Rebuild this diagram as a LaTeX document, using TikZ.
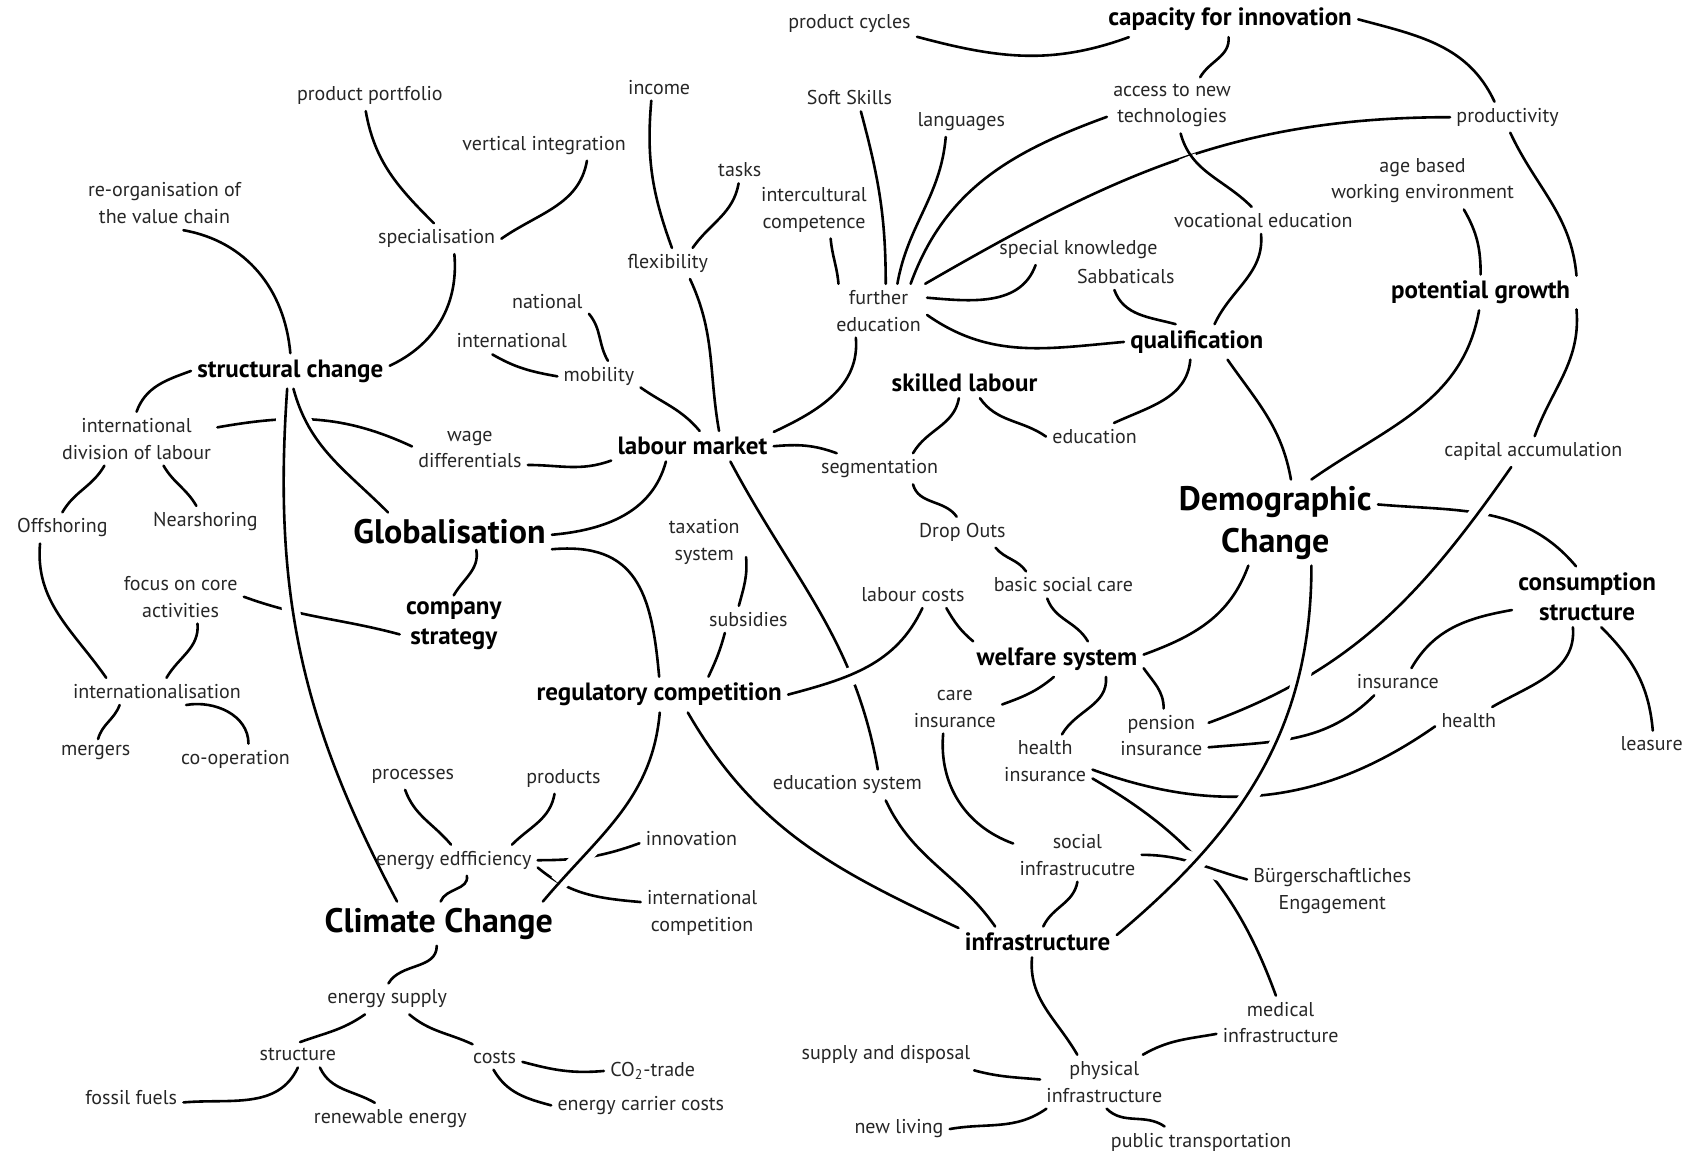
\documentclass[tikz,border=0pt]{standalone}
\usepackage{fontspec}
\setmainfont{PT Sans}
\usetikzlibrary{backgrounds}

\begin{document}
\begin{tikzpicture}[
    x=0.5376pt, y=0.5376pt,
    every node/.style={font=\fontsize{10}{13.4}\selectfont, align=center,
                       inner sep=3pt, text=black!85},
    topic/.style={font=\bfseries\fontsize{12.5}{15}\selectfont, text=black},
    theme/.style={font=\bfseries\fontsize{17}{21}\selectfont, text=black},
    link/.style={line width=1.3pt, line cap=round},
    over/.style={link, preaction={draw=white, line width=9pt,
                 shorten <=12pt, shorten >=12pt}}
  ]
  \useasboundingbox (0,0) rectangle (1568,-1074);

  \node (pcyc) at (790,-22) {product cycles};
  \node[topic] (capinn) at (1144,-18) {capacity for innovation};
  \node (pport) at (344,-89) {product portfolio};
  \node (income) at (613,-81) {income};
  \node (soft) at (790,-91) {Soft Skills};
  \node (lang) at (894,-113) {languages};
  \node (access) at (1090,-98) {access to new\\technologies};
  \node (prod) at (1402,-109) {productivity};
  \node (vint) at (506,-135) {vertical integration};
  \node (tasks) at (688,-158) {tasks};
  \node (agebased) at (1323,-168) {age based\\working environment};
  \node (reorg) at (153,-189) {re-organisation of\\the value chain};
  \node (intercult) at (757,-195) {intercultural\\competence};
  \node (spec) at (406,-222) {specialisation};
  \node (voc) at (1175,-205) {vocational education};
  \node (flex) at (621,-245) {flexibility};
  \node (specknow) at (1003,-232) {special knowledge};
  \node (sabb) at (1047,-257) {Sabbaticals};
  \node (further) at (817,-289) {further\\education};
  \node (national) at (509,-280) {national};
  \node[topic] (potgrowth) at (1377,-272) {potential growth};
  \node (intl) at (476,-317) {international};
  \node[topic] (qual) at (1113,-318) {qualification};
  \node[topic] (structch) at (270,-345) {structural change};
  \node (mobility) at (557,-350) {mobility};
  \node[topic] (skilled) at (897,-356) {skilled labour};
  \node (divlab) at (127,-408) {international\\division of labour};
  \node (wage) at (437,-418) {wage\\differentials};
  \node[topic] (labmkt) at (644,-415) {labour market};
  \node (edu) at (1018,-406) {education};
  \node (segm) at (818,-436) {segmentation};
  \node (capacc) at (1426,-420) {capital accumulation};
  \node (offsh) at (58,-491) {Offshoring};
  \node (nearsh) at (191,-485) {Nearshoring};
  \node[theme] (global) at (418,-494) {Globalisation};
  \node (tax) at (655,-504) {taxation\\system};
  \node (dropouts) at (895,-495) {Drop Outs};
  \node[theme] (demo) at (1186,-486) {Demographic\\Change};
  \node (focus) at (168,-555) {focus on core\\activities};
  \node[topic] (compstrat) at (422,-582) {company\\strategy};
  \node (labcost) at (849,-553) {labour costs};
  \node (basic) at (989,-544) {basic social care};
  \node[topic] (consum) at (1476,-555) {consumption\\structure};
  \node (subs) at (696,-576) {subsidies};
  \node[topic] (welfare) at (983,-613) {welfare system};
  \node (intlisation) at (146,-643) {internationalisation};
  \node[topic] (regcomp) at (613,-646) {regulatory competition};
  \node (careins) at (888,-659) {care\\insurance};
  \node (insur) at (1300,-634) {insurance};
  \node (pension) at (1080,-684) {pension\\insurance};
  \node (health) at (1366,-670) {health};
  \node (healthins) at (972,-708) {health\\insurance};
  \node (leasure) at (1536,-692) {leasure};
  \node (mergers) at (89,-700) {mergers};
  \node (coop) at (219,-706) {co-operation};
  \node (processes) at (384,-722) {processes};
  \node (products) at (524,-724) {products};
  \node (edusys) at (788,-730) {education system};
  \node (innov) at (643,-780) {innovation};
  \node (effic) at (422,-800) {energy edfficiency};
  \node (socinfra) at (1002,-795) {social\\infrastrucutre};
  \node (intcomp) at (653,-849) {international\\competition};
  \node (buerger) at (1239,-829) {Bürgerschaftliches\\Engagement};
  \node[theme] (climate) at (408,-859) {Climate Change};
  \node[topic] (infra) at (965,-876) {infrastructure};
  \node (supply) at (360,-929) {energy supply};
  \node (medinfra) at (1191,-951) {medical\\infrastructure};
  \node (structure) at (277,-981) {structure};
  \node (costs) at (460,-983) {costs};
  \node (cotrade) at (607,-996) {CO\textsubscript{2}-trade};
  \node (supdisp) at (824,-981) {supply and disposal};
  \node (physinfra) at (1027,-1006) {physical\\infrastructure};
  \node (fossil) at (122,-1021) {fossil fuels};
  \node (carrier) at (596,-1028) {energy carrier costs};
  \node (renew) at (363,-1040) {renewable energy};
  \node (newliv) at (836,-1050) {new living};
  \node (pubtrans) at (1117,-1062) {public transportation};

  \begin{scope}[on background layer]
    \draw[link] (pcyc.-11) to[out=-15,in=-160] (capinn.190);
    \draw[link] (capinn.-95) to[out=-85,in=60] (access.45);
    \draw[link] (capinn.0) to[out=-15,in=115] (prod.130);
    \draw[link] (further.30) to[out=30,in=180] (prod.180);
    \draw[link] (pport.-105) to[out=-80,in=135] (spec.100);
    \draw[link] (vint.-20) to[out=-100,in=35] (spec.0);
    \draw[link] (structch.90) to[out=95,in=-10] (reorg.-55);
    \draw[link] (structch.3) to[out=25,in=-85] (spec.-41);
    \draw[link] (income.-120) to[out=-95,in=110] (flex.75);
    \draw[link] (tasks.-95) to[out=-100,in=55] (flex.32);
    \draw[link] (national.-17) to[out=-50,in=120] (mobility.60);
    \draw[link] (intl.-145) to[out=-30,in=170] (mobility.180);
    \draw[link] (structch.180) to[out=200,in=70] (divlab.90);
    \draw[link] (divlab.8) to[out=10,in=155] (wage.177);
    \draw[link] (divlab.-140) to[out=-120,in=60] (offsh.90);
    \draw[link] (divlab.-45) to[out=-60,in=120] (nearsh.120);
    \draw[link] (wage.-15) to[out=0,in=200] (labmkt.190);
    \draw[link] (labmkt.-150) to[out=-105,in=5] (global.-2);
    \draw[link] (global.-10) to[out=5,in=95,looseness=1.3] (regcomp.90);
    \draw[link] (global.-35) to[out=-80,in=60] (compstrat.90);
    \draw[link] (focus.0) to[out=-20,in=165] (compstrat.189);
    \draw[link] (offsh.-145) to[out=-95,in=125] (intlisation.165);
    \draw[link] (focus.-58) to[out=-85,in=60] (intlisation.55);
    \draw[link] (intlisation.-160) to[out=-110,in=75] (mergers.80);
    \draw[link] (intlisation.-25) to[out=10,in=90] (coop.50);
    \draw[link] (regcomp.20) to[out=65,in=-105] (subs.-150);
    \draw[link] (tax.-20) to[out=-85,in=75] (subs.125);
    \draw[link] (labmkt.-22) to[out=-62,in=100] (edusys.27);
    \draw[link] (labmkt.0) to[out=5,in=160] (segm.160);
    \draw[link] (labmkt.10) to[out=25,in=-85] (further.-130);
    \draw[link] (mobility.-15) to[out=-35,in=130] (labmkt.65);
    \draw[link] (flex.-35) to[out=-65,in=100] (labmkt.30);
    \draw[link] (skilled.-110) to[out=-100,in=60] (segm.25);
    \draw[link] (skilled.-45) to[out=-55,in=145] (edu.180);
    \draw[link] (segm.-25) to[out=-75,in=125] (dropouts.110);
    \draw[link] (dropouts.-25) to[out=-50,in=125] (basic.160);
    \draw[link] (basic.-140) to[out=-70,in=120] (welfare.30);
    \draw[link] (labcost.-22) to[out=-60,in=140] (welfare.168);
    \draw[link] (welfare.3) to[out=20,in=-110] (demo.-122);
    \draw[link] (qual.-110) to[out=-95,in=25] (edu.35);
    \draw[link] (qual.-30) to[out=-55,in=100] (demo.70);
    \draw[link] (potgrowth.-95) to[out=-100,in=35] (demo.50);
    \draw[link] (prod.-80) to[out=-65,in=95] (potgrowth.10);
    \draw[link] (potgrowth.-10) to[out=-85,in=70] (capacc.85);
    \draw[link] (agebased.-35) to[out=-60,in=90] (potgrowth.90);
    \draw[link] (voc.-100) to[out=-85,in=65] (qual.45);
    \draw[link] (sabb.-130) to[out=-70,in=165] (qual.140);
    \draw[link] (further.-5) to[out=-35,in=185] (qual.180);
    \draw[link] (further.15) to[out=-5,in=-110] (specknow.-160);
    \draw[link] (further.40) to[out=70,in=200] (access.190);
    \draw[link] (further.55) to[out=80,in=-95] (lang.-135);
    \draw[link] (further.75) to[out=90,in=-75] (soft.-50);
    \draw[link] (further.146) to[out=95,in=-85] (intercult.-60);
    \draw[link] (demo.10) to[out=-5,in=130] (consum.110);
    \draw[link] (pension.-14) to[out=5,in=-135] (insur.-150);
    \draw[link] (insur.45) to[out=60,in=190] (consum.190);
    \draw[link] (health.30) to[out=30,in=-85] (consum.-115);
    \draw[link] (leasure.85) to[out=95,in=-45] (consum.-65);
    \draw[link] (healthins.-10) to[out=-20,in=-145] (health.190);
    \draw[link] (healthins.-20) to[out=-30,in=110] (medinfra.100);
    \draw[link] (careins.5) to[out=20,in=-140] (welfare.-100);
    \draw[link] (welfare.-20) to[out=-85,in=60] (healthins.58);
    \draw[link] (welfare.-6) to[out=-55,in=90] (pension.85);
    \draw[link] (careins.-115) to[out=-95,in=160] (socinfra.170);
    \draw[link] (socinfra.-90) to[out=-100,in=65] (infra.70);
    \draw[link] (edusys.-22) to[out=-65,in=125] (infra.160);
    \draw[link] (regcomp.-32) to[out=-60,in=155] (infra.170);
    \draw[link] (infra.-110) to[out=-95,in=120] (physinfra.135);
    \draw[link] (physinfra.35) to[out=30,in=190] (medinfra.190);
    \draw[link] (supdisp.-10) to[out=-15,in=175] (physinfra.178);
    \draw[link] (newliv.0) to[out=10,in=-145] (physinfra.-155);
    \draw[link] (physinfra.-85) to[out=-45,in=145] (pubtrans.157);
    \draw[link] (processes.-120) to[out=-70,in=130] (effic.100);
    \draw[link] (products.-120) to[out=-100,in=45] (effic.15);
    \draw[link] (effic.0) to[out=0,in=200] (innov.185);
    \draw[link] (effic.-5) to[out=-40,in=175] (intcomp.170);
    \draw[link] (effic.-50) to[out=-80,in=70] (climate.85);
    \draw[link] (climate.-95) to[out=-90,in=60] (supply.85);
    \draw[link] (supply.-145) to[out=-145,in=20] (structure.80);
    \draw[link] (supply.-35) to[out=-40,in=155] (costs.150);
    \draw[link] (costs.-10) to[out=-15,in=185] (cotrade.180);
    \draw[link] (costs.-95) to[out=-60,in=165] (carrier.180);
    \draw[link] (structure.-90) to[out=-115,in=5] (fossil.-5);
    \draw[link] (structure.-30) to[out=-65,in=150] (renew.135);
    % lines drawn across others
    \draw[over] (access.-73) to[out=-75,in=135] (voc.131);
    \draw[over] (structch.-80) to[out=-75,in=135] (global.163);
    \draw[over] (structch.-100) to[out=-94,in=118] (climate.152);
    \draw[over] (regcomp.0) to[out=15,in=-115] (labcost.-55);
    \draw[over] (pension.15) to[out=20,in=-125] (capacc.-145);
    \draw[over] (socinfra.0) to[out=0,in=165] (buerger.172);
    \draw[over] (demo.-50) to[out=-90,in=40] (infra.5);
    \draw[over] (regcomp.-88) to[out=-95,in=50] (climate.12);
  \end{scope}
\end{tikzpicture}
\end{document}
